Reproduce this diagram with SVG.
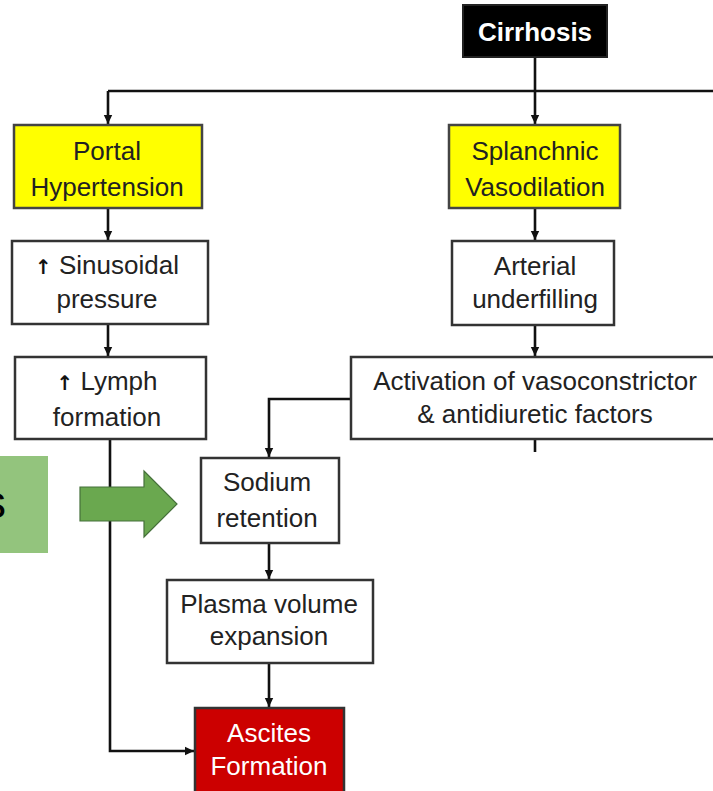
<svg xmlns="http://www.w3.org/2000/svg" width="713" height="791" viewBox="0 0 713 791">
<defs>
<marker id="ah" markerUnits="userSpaceOnUse" markerWidth="10" markerHeight="10" refX="9" refY="5" orient="auto">
<path d="M0,0.8 L9,5 L0,9.2 Z" fill="#111"/>
</marker>
<style>
.box{fill:#fff;stroke:#333;stroke-width:2.5}
.yel{fill:#ffff00;stroke:#444;stroke-width:2.5}
.t{font-family:"Liberation Sans",Arial,sans-serif;font-size:26px;fill:#222;text-anchor:middle}
.w{fill:#fff}
.up{font-family:"DejaVu Sans",sans-serif;font-weight:bold;font-size:20px;fill:#111}
.c{fill:none;stroke:#111;stroke-width:2.6}
</style>
</defs>
<rect width="713" height="791" fill="#fff"/>

<g id="connectors">
<path class="c" d="M535,57 V124" marker-end="url(#ah)"/>
<path class="c" d="M108,91 H713"/>
<path class="c" d="M108,91 V124" marker-end="url(#ah)"/>
<path class="c" d="M108,208 V240" marker-end="url(#ah)"/>
<path class="c" d="M108,324 V356" marker-end="url(#ah)"/>
<path class="c" d="M535,208 V240" marker-end="url(#ah)"/>
<path class="c" d="M535,325 V356" marker-end="url(#ah)"/>
<path class="c" d="M351,399 H269 V457" marker-end="url(#ah)"/>
<path class="c" d="M535,439 V452"/>
<path class="c" d="M110,439 V751 H194" marker-end="url(#ah)"/>
<path class="c" d="M269,543 V579" marker-end="url(#ah)"/>
<path class="c" d="M269,663 V707" marker-end="url(#ah)"/>
</g>

<g id="cirrhosis">
<rect x="463" y="5" width="144" height="52" fill="#000" stroke="#222" stroke-width="2"/>
<text class="t w" x="535" y="41" font-weight="bold" font-size="24">Cirrhosis</text>
</g>

<g id="portal">
<rect class="yel" x="14" y="125" width="188" height="83"/>
<text class="t" x="107" y="160">Portal</text>
<text class="t" x="107" y="196">Hypertension</text>
</g>

<g id="splanchnic">
<rect class="yel" x="449" y="125" width="171" height="83"/>
<text class="t" x="535" y="160">Splanchnic</text>
<text class="t" x="535" y="196">Vasodilation</text>
</g>

<g id="sinusoidal">
<rect class="box" x="12" y="241" width="196" height="83"/>
<text class="t" x="107" y="274"><tspan class="up">↑</tspan> Sinusoidal</text>
<text class="t" x="107" y="308">pressure</text>
</g>

<g id="arterial">
<rect class="box" x="452" y="241" width="162" height="84"/>
<text class="t" x="535" y="275">Arterial</text>
<text class="t" x="535" y="308">underfilling</text>
</g>

<g id="lymph">
<rect class="box" x="15" y="357" width="191" height="82"/>
<text class="t" x="107" y="390"><tspan class="up">↑</tspan> Lymph</text>
<text class="t" x="107" y="426">formation</text>
</g>

<g id="activation">
<rect class="box" x="351" y="357" width="370" height="82"/>
<text class="t" x="535" y="390">Activation of vasoconstrictor</text>
<text class="t" x="535" y="423">&amp; antidiuretic factors</text>
</g>

<g id="sodium">
<rect class="box" x="201" y="458" width="138" height="85"/>
<text class="t" x="267" y="491">Sodium</text>
<text class="t" x="267" y="527">retention</text>
</g>

<g id="plasma">
<rect class="box" x="167" y="580" width="206" height="83"/>
<text class="t" x="269" y="613">Plasma volume</text>
<text class="t" x="269" y="645">expansion</text>
</g>

<g id="ascites">
<rect x="195" y="708" width="149" height="90" fill="#cc0000" stroke="#333" stroke-width="2.5"/>
<text class="t w" x="269" y="742">Ascites</text>
<text class="t w" x="269" y="775">Formation</text>
</g>

<g id="green-label">
<rect x="0" y="456" width="48" height="97" fill="#93c47d"/>
<text x="6" y="518" font-family="&quot;Liberation Sans&quot;,Arial,sans-serif" font-size="46" fill="#000" text-anchor="end">s</text>
</g>

<g id="green-arrow">
<polygon points="80,487 144,487 144,471 177,504 144,537 144,521 80,521" fill="#6aa84f" stroke="#45703a" stroke-width="1.2"/>
</g>
</svg>
